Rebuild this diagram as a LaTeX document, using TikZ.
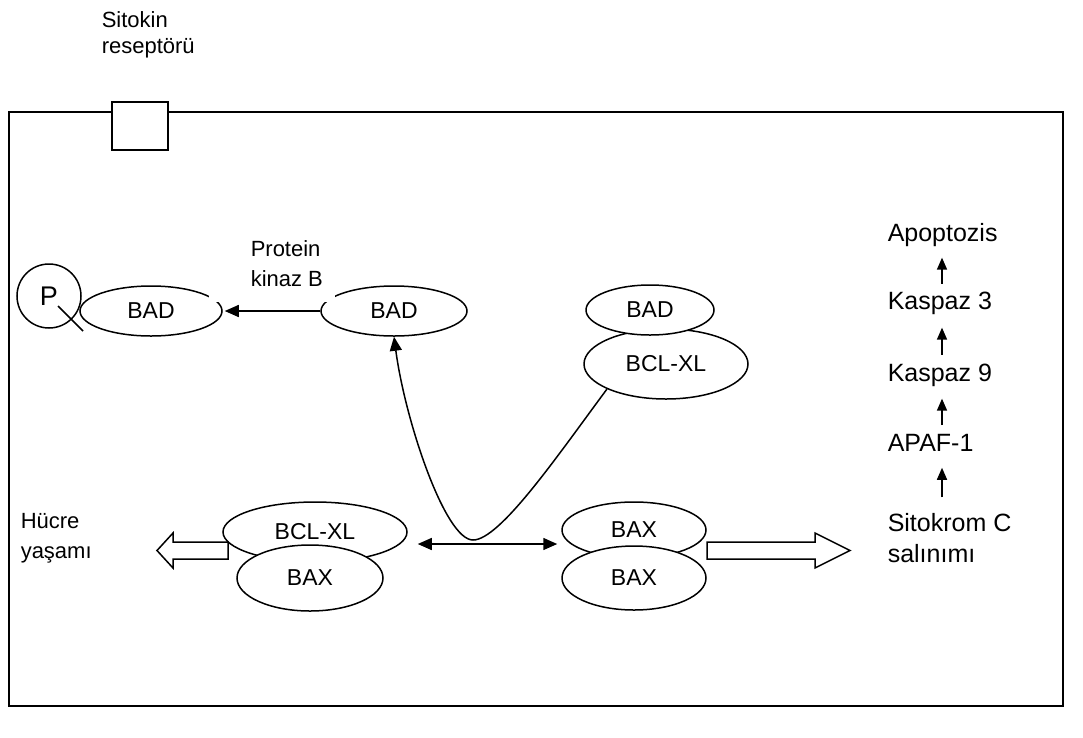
\documentclass[tikz,border=0pt]{standalone}
\usepackage{fontspec}
\setmainfont{Liberation Sans}
\usetikzlibrary{shapes.geometric,arrows.meta}
\newcommand\smallfnt{\fontsize{22}{30}\selectfont}
\newcommand\ellfnt{\fontsize{23}{26}\selectfont}
\newcommand\bigfnt{\fontsize{25}{31}\selectfont}
\begin{document}
\begin{tikzpicture}[x=1pt,y=-1pt,line width=1.5pt,
  ell/.style={draw,ellipse,fill=white,inner sep=0pt,font=\ellfnt},
  arr/.style={-{Triangle[length=14pt,width=12pt]}},
  dblarr/.style={{Triangle[length=14pt,width=12pt]}-{Triangle[length=14pt,width=12pt]}},
  sarr/.style={-{Triangle[length=12pt,width=10pt]}},
  hollow/.style={draw,fill=white,line join=miter},
  lbl/.style={inner sep=0pt,align=left,font=\smallfnt},
  biglbl/.style={inner sep=0pt,align=left,font=\bigfnt}]
\useasboundingbox (0,0) rectangle (1083,737);
% cell membrane
\draw (9,112) rectangle (1063,706);
\node[draw,fill=white,minimum width=56pt,minimum height=48pt,inner sep=0pt] (rec) at (140,126) {};
\node[lbl,anchor=north west,font=\fontsize{22}{26}\selectfont] (sit) at (101,11) {Sitokin\\reseptörü};
% phosphorylated BAD
\node[ell,minimum width=142pt,minimum height=50pt] (bad1) at (151,311) {BAD};
\node[draw,circle,minimum size=64pt,inner sep=0pt,font=\fontsize{27}{31}\selectfont] (P) at (49,296) {P};
\draw ([shift={(9pt,-10pt)}]P.center) -- ([shift={(34pt,-35pt)}]P.center);
% free BAD
\node[ell,minimum width=146pt,minimum height=50pt] (bad2) at (394,311) {BAD};
\node[fill=white,minimum width=126pt,minimum height=74pt,inner sep=0pt,anchor=south west] (pkbox) at (208,303) {};
\node[lbl,anchor=north west] (pkb) at (250,240) {Protein\\kinaz B};
\draw[arr,shorten >=2pt] (bad2.west) -- (bad1.east);
% BAD / BCL-XL complex
\node[ell,minimum width=164pt,minimum height=70pt] (bclR) at (666,364) {BCL-XL};
\node[ell,minimum width=128pt,minimum height=50pt] (badR) at (650,310) {BAD};
% BCL-XL / BAX complex
\node[ell,minimum width=184pt,minimum height=60pt] (bclL) at (315,532) {BCL-XL};
\node[ell,minimum width=146pt,minimum height=66pt] (baxL) at (310,578) {BAX};
% BAX / BAX complex
\node[ell,minimum width=144pt,minimum height=56pt] (baxT) at (634,530) {BAX};
\node[ell,minimum width=144pt,minimum height=64pt] (baxB) at (634,578) {BAX};
% connectors
\draw[arr] (bclR.203) .. controls (558,455) and (500,540) .. (473,540)
  .. controls (445,540) and (405,420) .. (bad2.south);
\draw[dblarr] ([xshift=10pt,yshift=-12pt]bclL.east) -- ([xshift=-4pt,yshift=-14pt]baxT.west);
% hollow arrows
\draw[hollow] (228,542) -- (173,542) -- (173,533) -- (157,550.5) -- (173,568) -- (173,559) -- (228,559) -- cycle;
\draw[hollow] (707,542) -- (815,542) -- (815,533) -- (850,550.5) -- (815,568) -- (815,559) -- (707,559) -- cycle;
\node[lbl,anchor=west] (hy) at (20,538) {Hücre\\yaşamı};
% apoptosis cascade
\node[biglbl,anchor=base west] (apo) at (887,241) {Apoptozis};
\node[biglbl,anchor=base west] (k3) at (887,309) {Kaspaz 3};
\node[biglbl,anchor=base west] (k9) at (887,381) {Kaspaz 9};
\node[biglbl,anchor=base west] (apaf) at (887,451) {APAF-1};
\node[biglbl,anchor=north west] (sito) at (887,513) {Sitokrom C\\salınımı};
\coordinate (colx) at (942,0);
\draw[sarr] ([yshift=7pt]colx |- k3.north) -- ([yshift=-10.7pt]colx |- apo.south);
\draw[sarr] ([yshift=8pt]colx |- k9.north) -- ([yshift=-12.7pt]colx |- k3.south);
\draw[sarr] ([yshift=8pt]colx |- apaf.north) -- ([yshift=-11.7pt]colx |- k9.south);
\draw[sarr] ([yshift=15.7pt]colx |- sito.north) -- ([yshift=-16pt]colx |- apaf.south);
\end{tikzpicture}
\end{document}
